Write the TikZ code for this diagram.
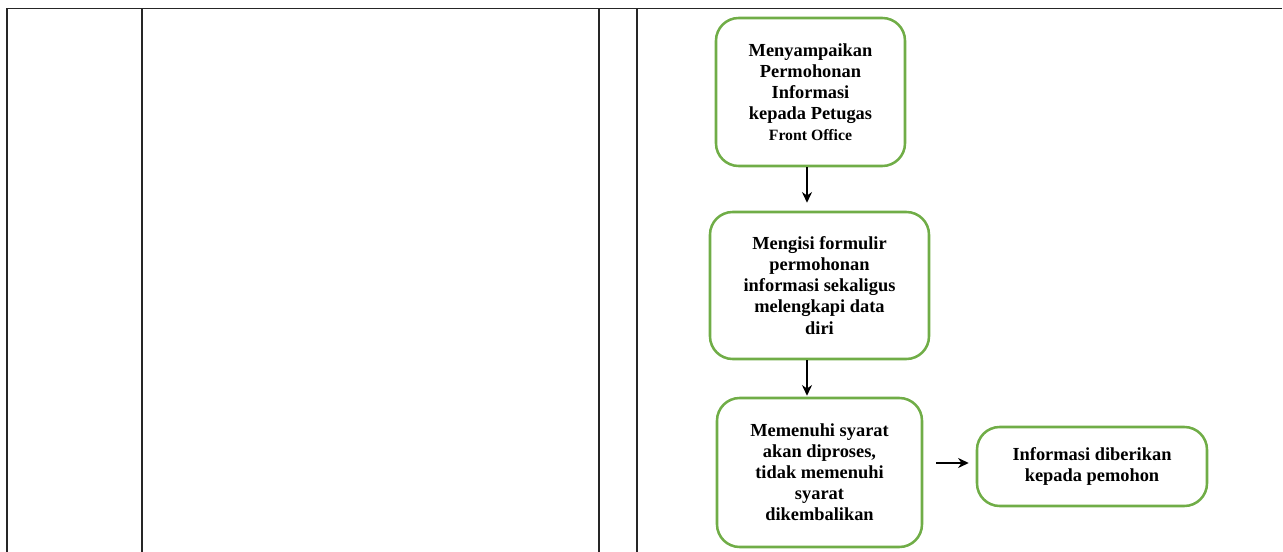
\documentclass[tikz,border=0pt]{standalone}
\usepackage{fontspec}
\setmainfont{Liberation Serif}
\usetikzlibrary{positioning,arrows.meta}
\definecolor{boxgreen}{RGB}{112,173,71}

\tikzset{
  proc/.style={draw=boxgreen,line width=1.9pt,rounded corners=17pt,align=center,
    font=\fontsize{13.8}{15.8}\selectfont\bfseries,inner sep=2pt},
  flow/.style={line width=1.7pt,-{Stealth[length=8pt,width=7.5pt]}},
  rule/.style={line width=1pt,draw=black!85}
}

\begin{document}
\begin{tikzpicture}[x=0.75pt,y=-0.75pt]
\useasboundingbox (0,0) rectangle (1283,552);
% table lines
\draw[rule] (7,552) -- (7,8.5) -- (1282,8.5);
\draw[rule] (142,8.5) -- (142,552);
\draw[rule] (599,8.5) -- (599,552);
\draw[rule] (637,8.5) -- (637,552);

\node[proc,minimum width=141.75pt,minimum height=111pt] (b1) at (810.5,92)
  {Menyampaikan\\Permohonan\\Informasi\\kepada Petugas\\{\fontsize{11.8}{15.8}\selectfont Front Office}};
\node[proc,minimum width=164.25pt,minimum height=110.25pt] (b2) at (819.5,285.5)
  {Mengisi formulir\\permohonan\\informasi sekaligus\\melengkapi data\\diri};
\node[proc,minimum width=153.75pt,minimum height=111.75pt] (b3) at (819.5,472.5)
  {Memenuhi syarat\\akan diproses,\\tidak memenuhi\\syarat\\dikembalikan};
\node[proc,minimum width=172.5pt,minimum height=59.25pt] (b4) at (1092,466.5)
  {Informasi diberikan\\kepada pemohon};

\coordinate (ax) at (807,0);
\coordinate (row) at (0,463);
\draw[flow,shorten >=6pt] (b1.south -| ax) -- (b2.north -| ax);
\draw[flow,shorten >=0.75pt] (b2.south -| ax) -- (b3.north -| ax);
\draw[flow,shorten <=9.75pt,shorten >=5.25pt] (b3.east |- row) -- (b4.west |- row);
\end{tikzpicture}
\end{document}
